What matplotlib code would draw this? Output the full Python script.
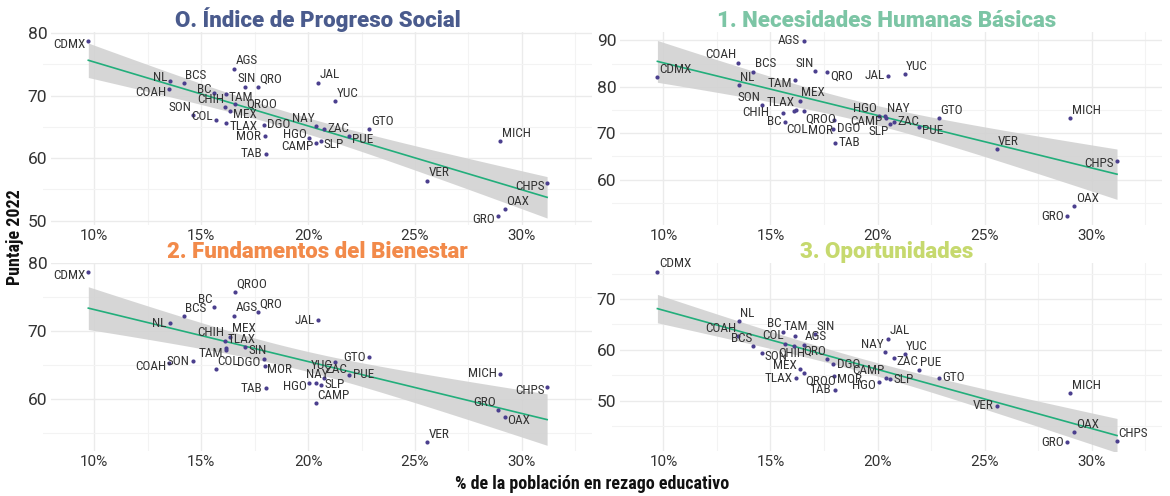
import numpy as np
import matplotlib
matplotlib.use("Agg")
import matplotlib.pyplot as plt

# ---------------- data ----------------
states = ["CDMX", "NL", "COAH", "BCS", "SON", "BC", "COL", "TAM", "CHIH", "TLAX",
          "MEX", "AGS", "QROO", "SIN", "QRO", "DGO", "MOR", "TAB", "HGO", "NAY",
          "CAMP", "JAL", "SLP", "ZAC", "YUC", "PUE", "GTO", "VER", "GRO", "MICH",
          "OAX", "CHPS"]
rezago = [9.72, 13.53, 13.49, 14.20, 14.60, 15.60, 15.68, 16.14, 16.12, 16.18,
          16.37, 16.55, 16.57, 17.07, 17.65, 17.92, 17.97, 18.02, 20.05, 20.36,
          20.37, 20.48, 20.60, 20.76, 21.27, 21.93, 22.87, 25.56, 28.86, 28.99,
          29.19, 31.18]
ips = [78.75, 72.3, 71.1, 72.0, 66.9, 70.4, 66.05, 70.3, 68.1, 65.6,
       67.45, 74.3, 68.65, 71.3, 71.3, 65.3, 63.5, 60.65, 63.25, 65.1,
       62.4, 72.06, 62.8, 64.7, 69.1, 63.5, 64.6, 56.4, 50.7, 62.7,
       51.8, 55.95]
nhb = [82.1, 80.3, 85.2, 83.2, 76.0, 74.3, 72.4, 81.35, 74.8, 75.0,
       77.0, 89.9, 74.8, 83.4, 83.1, 71.0, 72.8, 67.9, 73.7, 73.7,
       73.2, 82.4, 72.0, 72.5, 82.65, 71.4, 73.2, 66.55, 52.1, 73.2,
       54.3, 64.1]
fdb = [78.8, 71.15, 65.25, 72.2, 65.6, 73.5, 64.4, 67.3, 68.6, 67.6,
       69.2, 72.3, 75.85, 67.7, 72.8, 65.85, 64.8, 61.6, 62.3, 62.3,
       59.4, 71.65, 62.1, 63.15, 65.45, 63.6, 66.2, 53.6, 58.4, 63.75,
       57.3, 61.8]
opo = [75.4, 65.6, 62.7, 60.7, 59.3, 63.6, 61.2, 62.7, 60.85, 54.4,
       56.3, 61.05, 55.4, 63.1, 58.3, 57.2, 54.9, 52.2, 53.7, 59.5,
       54.4, 62.2, 54.2, 58.45, 59.1, 56.0, 54.5, 49.0, 41.8, 51.5,
       43.85, 42.0]

titles = ["O. Índice de Progreso Social", "1. Necesidades Humanas Básicas",
          "2. Fundamentos del Bienestar", "3. Oportunidades"]
x_ticks = [10, 15, 20, 25, 30]
y_ticks = [[50, 60, 70, 80], [60, 70, 80, 90], [60, 70, 80], [40, 50, 60, 70]]

# ---------------- style ----------------
title_colors = ["#4A5B8D", "#7CC5A5", "#F28A4A", "#C6D96E"]
point_color = "#4B3F8E"
line_color = "#22AE7B"
band_color = "#D2D2D2"
text_color = "#333333"
label_font = ["Roboto Condensed", "Liberation Sans Narrow", "Roboto", "DejaVu Sans"]
tick_font = ["Roboto", "DejaVu Sans"]
axis_font = ["Roboto Condensed", "Roboto", "DejaVu Sans"]

# label placement codes per panel (same order as states)
place = [
    # panel 0
    ["ld", "lu", "ld", "ur", "ul", "lu", "lu", "rd", "ul", "rd",
     "rd", "ur", "R", "u", "ur", "r", "l", "l", "lu", "ul",
     "ld", "ur", "rd", "r", "ur", "rd", "ur", "ur", "ld", "ur",
     "ur", "ld"],
    # panel 1
    ["ur", "ur", "ul", "ur", "ul", "ll", "lr", "ld", "L", "ul",
     "ur", "l", "lr", "ul", "rd", "r", "LL", "r", "ul", "ur",
     "ld", "l", "ll", "r", "ur", "rd", "ur", "ur", "l", "ur",
     "ur", "ld"],
    # panel 2
    ["ld", "l", "ld", "ur", "l", "ul", "ur", "ld", "ul", "ur",
     "ur", "ur", "ur", "rd", "ur", "ld", "rd", "l", "ld", "u",
     "ur", "l", "r", "ur", "ld", "r", "l", "ur", "ul", "l",
     "rd", "ld"],
    # panel 3
    ["ur", "ur", "ul", "ul", "rd", "ul", "ul", "u", "d", "l",
     "lu", "ur", "lr", "ur", "ul", "r", "rd", "l", "ld", "ul",
     "ul", "ur", "r", "rd", "ur", "ur", "r", "l", "l", "ur",
     "ur", "ur"],
]
offsets = {
    "r": (2.5, 0, "left", "center"),
    "l": (-2.5, 0, "right", "center"),
    "R": (8, 0, "left", "center"),
    "L": (-18, -1, "right", "center"),
    "ru": (2, 2.5, "left", "center"),
    "rd": (2, -2.5, "left", "center"),
    "lu": (-2, 2.5, "right", "center"),
    "ld": (-2, -2.5, "right", "center"),
    "ur": (1, 1, "left", "bottom"),
    "ul": (-1, 1, "right", "bottom"),
    "lr": (1, -1, "left", "top"),
    "ll": (-1, -1, "right", "top"),
    "LL": (-1, -3, "right", "top"),
    "u": (1, 2, "center", "bottom"),
    "d": (-2, -1, "center", "top"),
}

W, H = 1170, 496
fig = plt.figure(figsize=(W / 100, H / 100), dpi=100)
fig.patch.set_facecolor("white")

def px_rect(l, t, r, b):
    return [l / W, 1 - b / H, (r - l) / W, (b - t) / H]

rects = [px_rect(43, 32, 592, 225), px_rect(612, 32, 1162, 225),
         px_rect(43, 263, 592, 451), px_rect(612, 263, 1162, 451)]

series = [ips, nhb, fdb, opo]
x = np.array(rezago)
T975 = 2.042  # t quantile, df = 30

for k in range(4):
    ax = fig.add_axes(rects[k])
    y = np.array(series[k])
    ax.set_facecolor("white")
    for s in ax.spines.values():
        s.set_visible(False)

    # regression with 95% CI
    n = len(x)
    b1, b0 = np.polyfit(x, y, 1)
    resid = y - (b0 + b1 * x)
    s_err = np.sqrt(np.sum(resid ** 2) / (n - 2))
    xg = np.linspace(x.min(), x.max(), 100)
    yg = b0 + b1 * xg
    se = s_err * np.sqrt(1 / n + (xg - x.mean()) ** 2 / np.sum((x - x.mean()) ** 2))
    ax.fill_between(xg, yg - T975 * se, yg + T975 * se, color=band_color,
                    alpha=0.9, lw=0, zorder=2)
    ax.plot(xg, yg, color=line_color, lw=1.2, zorder=3)
    ax.scatter(x, y, s=9, color=point_color, zorder=4, lw=0)

    for i, name in enumerate(states):
        dx, dy, ha, va = offsets[place[k][i]]
        ax.annotate(name, (x[i], y[i]), xytext=(dx, dy), textcoords="offset points",
                    ha=ha, va=va, fontsize=9.5, color=text_color,
                    family=label_font, zorder=5)

    ax.set_xticks(x_ticks)
    ax.set_xticklabels([f"{t}%" for t in x_ticks])
    ax.set_xticks([t + 2.5 for t in [5] + x_ticks], minor=True)
    ax.set_yticks(y_ticks[k])
    yt = y_ticks[k]
    minors = [v + 5 for v in range(yt[0] - 10, yt[-1] + 10, 10)]
    ax.set_yticks(minors, minor=True)

    ax.set_xlim(7.6, 33.28)
    rng = y.max() - y.min()
    ax.set_ylim(y.min() - 0.05 * rng, y.max() + 0.05 * rng)

    ax.grid(which="major", color="#EBEBEB", lw=1.0, zorder=0)
    ax.grid(which="minor", color="#F3F3F3", lw=0.8, zorder=0)
    ax.set_axisbelow(True)
    ax.tick_params(which="both", length=0)
    ax.tick_params(axis="x", pad=3, labelsize=11, labelcolor=text_color)
    ax.tick_params(axis="y", pad=-3, labelsize=12.5, labelcolor=text_color)
    for lab in ax.get_xticklabels() + ax.get_yticklabels():
        lab.set_family(tick_font)
    for lab in ax.get_yticklabels():
        lab.set_bbox(dict(facecolor="white", edgecolor="none", pad=2.5))

    ax.set_title(titles[k], color=title_colors[k], fontsize=16, fontweight="black",
                 family=["Roboto", "DejaVu Sans"], pad=2)

fig.text(15 / W, 1 - 237 / H, "Puntaje 2022", rotation=90, ha="center", va="center",
         fontsize=13, fontweight="bold", color="#111111", family=axis_font)
fig.text(592 / W, 1 - 484 / H, "% de la población en rezago educativo", ha="center",
         va="center", fontsize=13, fontweight="bold", color="#111111",
         family=axis_font)

fig.savefig("out.png", dpi=100, facecolor="white")
